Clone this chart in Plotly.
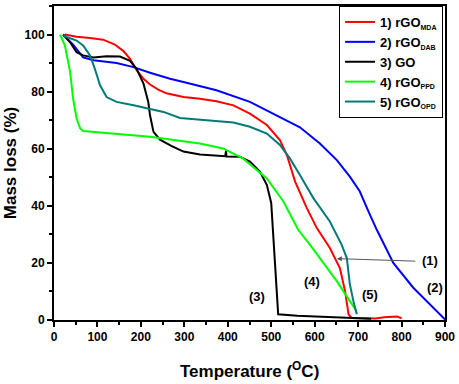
import plotly.graph_objects as go

# --- data ---
mda_T = [25, 52, 83, 113, 140, 160, 175, 190, 206, 221, 240, 259, 298, 336, 374, 413, 451, 490, 520, 536, 555, 582, 605, 635, 658, 670, 678, 685, 740, 760, 790, 800]
mda_m = [100, 99.2, 98.8, 98.2, 96.5, 94.2, 91.5, 87.6, 84.5, 82.5, 80.7, 79.4, 78.1, 77.5, 76.6, 75.2, 72.3, 68.3, 63, 57.8, 48.5, 39.2, 32.2, 25.2, 18.2, 10.1, 2, 0.7, 0.5, 1.0, 1.2, 0.6]

dab_T = [21, 44, 67, 91, 144, 183, 221, 267, 298, 374, 451, 520, 566, 612, 651, 681, 704, 724, 743, 781, 827, 900]
dab_m = [100, 96.5, 92, 91, 90, 88.6, 86.6, 84.5, 83.4, 80.5, 76.4, 71.2, 67.5, 61.8, 56, 50.2, 45, 38, 31.6, 20, 11.3, 0.2]

go_T = [21, 37, 52, 67, 91, 121, 152, 175, 190, 206, 217, 221, 229, 244, 270, 298, 336, 394, 396, 397, 428, 451, 474, 490, 500, 508, 516, 560, 620, 674, 730]
go_m = [100, 97.3, 93.8, 92.7, 92, 92.4, 92.3, 90.8, 88, 82.8, 76.4, 71.7, 65.9, 63.2, 61, 59, 58, 57.4, 59.2, 57.3, 57.2, 55.5, 52, 47.3, 41, 22, 2, 1.5, 1.2, 0.8, 0.4]

ppd_T = [14, 25, 37, 44, 52, 60, 67, 91, 144, 221, 336, 389, 435, 490, 528, 562, 589, 620, 651, 675, 697]
ppd_m = [100, 96.2, 87, 77.5, 70.6, 67.2, 66.2, 65.9, 65.1, 64.2, 61.8, 60.1, 56.6, 49.6, 41.5, 31.6, 26.4, 20, 13.6, 8, 3]

opd_T = [21, 52, 67, 83, 94, 106, 121, 144, 183, 221, 252, 290, 336, 413, 451, 490, 520, 543, 566, 597, 635, 662, 674, 681, 690, 697]
opd_m = [99.6, 97.9, 96.2, 92.7, 88, 82.2, 78.1, 76.4, 75.2, 74, 72.9, 70.8, 70.3, 69.2, 67.7, 65.3, 61.3, 56.6, 50.8, 42.7, 34.5, 26.4, 21.7, 12.5, 6, 2]

names = ["1) rGO", "2) rGO", "3) GO", "4) rGO", "5) rGO"]
subs = ["MDA", "DAB", "", "PPD", "OPD"]
colors = ["#ff0000", "#0000ff", "#000000", "#00ff00", "#007b78"]

x_ticks = [0, 100, 200, 300, 400, 500, 600, 700, 800, 900]
y_ticks = [0, 20, 40, 60, 80, 100]

curve_labels = ["(1)", "(2)", "(3)", "(4)", "(5)"]
label_T = [866, 877, 468, 593, 727]
label_m = [20.9, 11.5, 8.4, 13.6, 9.1]

FONT = "Arial, Liberation Sans, sans-serif"

fig = go.Figure()
series = [(mda_T, mda_m), (dab_T, dab_m), (go_T, go_m), (ppd_T, ppd_m), (opd_T, opd_m)]
for (t, m), n, s, c in zip(series, names, subs, colors):
    label = n + (f"<sub><span style='font-size:7px'>{s}</span></sub>" if s else "")
    fig.add_trace(go.Scatter(x=t, y=m, mode="lines", name=label,
                             line=dict(color=c, width=2)))

for txt, t, m in zip(curve_labels, label_T, label_m):
    fig.add_annotation(x=t, y=m, text=txt, showarrow=False,
                       font=dict(family=FONT, size=13, color="black", weight="bold"))

# arrow pointing to curve (1)
fig.add_annotation(x=651, y=21.5, ax=835, ay=20.6, xref="x", yref="y",
                   axref="x", ayref="y", text="", showarrow=True,
                   arrowhead=2, arrowsize=1, arrowwidth=1, arrowcolor="#555555")

# axis titles
fig.add_annotation(x=0.5, y=-0.158, xref="paper", yref="paper",
                   text="Temperature (<sup>O</sup>C)", showarrow=False,
                   yanchor="middle", font=dict(family=FONT, size=17, color="black", weight="bold"))
fig.add_annotation(x=-0.112, y=0.5, xref="paper", yref="paper", textangle=-90,
                   text="Mass loss (%)", showarrow=False, xanchor="center",
                   font=dict(family=FONT, size=17, color="black", weight="bold"))

axis_common = dict(showline=True, linecolor="black", linewidth=2, mirror=True,
                   ticks="outside", ticklen=5, tickwidth=1.5, tickcolor="black",
                   showgrid=False, zeroline=False,
                   tickfont=dict(family=FONT, size=12, color="black", weight="bold"))

fig.update_xaxes(range=[0, 900], tickvals=x_ticks, ticktext=[str(v) for v in x_ticks],
                 minor=dict(ticks="outside", ticklen=3, dtick=50, tickwidth=1.5, tickcolor="black"),
                 **axis_common)
fig.update_yaxes(range=[0, 110], tickvals=y_ticks, ticktext=[str(v) for v in y_ticks],
                 minor=dict(ticks="outside", ticklen=3, dtick=10, tickwidth=1.5, tickcolor="black"),
                 **axis_common)

fig.update_layout(
    width=459, height=384,
    margin=dict(l=54, r=14, t=4, b=64),
    paper_bgcolor="white", plot_bgcolor="white",
    showlegend=True,
    legend=dict(x=0.995, y=1.0, xanchor="right", yanchor="top",
                bgcolor="white", bordercolor="black", borderwidth=1,
                font=dict(family=FONT, size=13, color="black", weight="bold"),
                tracegroupgap=0, itemwidth=30),
)

fig.write_html("out.html", config={"displayModeBar": False},
               post_script="document.body.style.margin='0';document.body.style.overflow='hidden';")
